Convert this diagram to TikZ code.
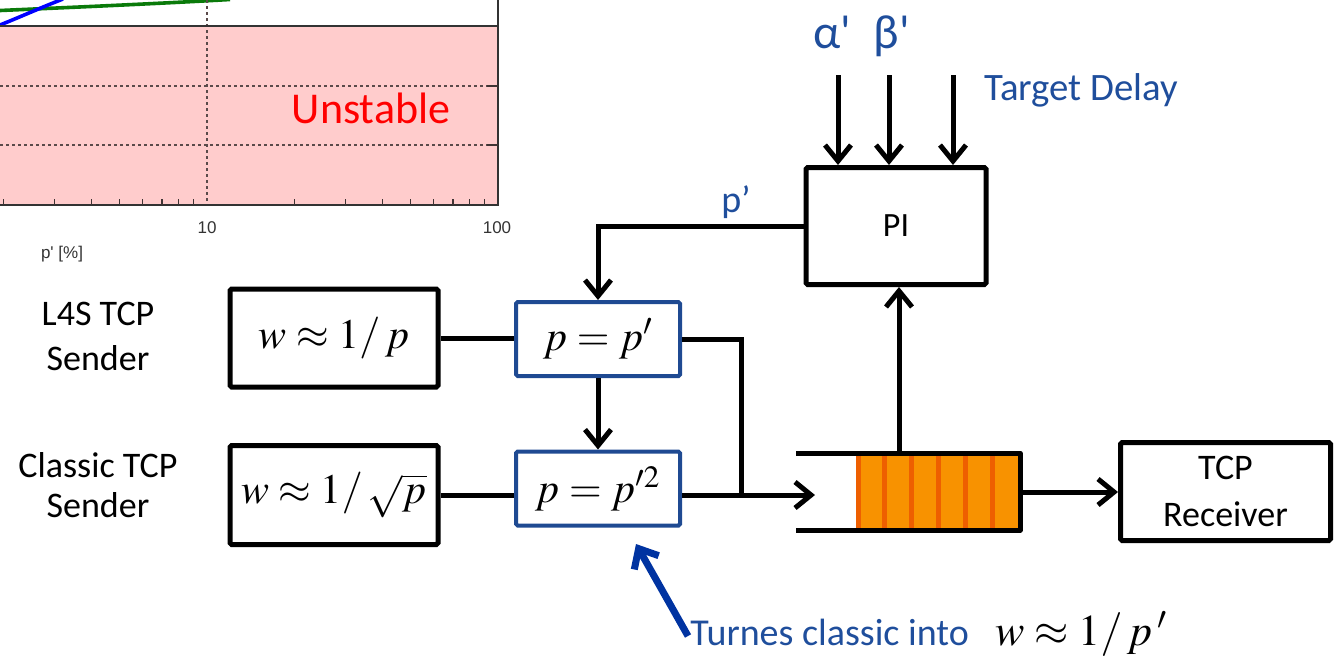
\documentclass[tikz,border=0pt]{standalone}
\usepackage{mathptmx}
\usepackage[no-math]{fontspec}
\setmainfont{Carlito}
\newfontfamily\plotfont{Liberation Sans}
\usetikzlibrary{arrows.meta}
\definecolor{pinkbg}{HTML}{FFCCCC}
\definecolor{boxblue}{HTML}{1F4A92}
\definecolor{txtblue}{HTML}{1F4E9C}
\definecolor{arrowblue}{HTML}{0033A1}
\definecolor{qorange}{HTML}{F89200}
\definecolor{qstripe}{HTML}{EE5F00}
\definecolor{gridcol}{HTML}{5A4A4A}
\definecolor{plotgreen}{HTML}{0A7A0A}
\begin{document}
\begin{tikzpicture}[x=0.5pt,y=-0.5pt,
  sbox/.style={draw, line width=2.5pt, inner sep=0pt, rounded corners=0.8pt},
  mbox/.style={draw=boxblue, line width=2pt, inner sep=0pt, rounded corners=0.8pt},
  conn/.style={line width=2.5pt},
  arr/.style={conn, -{Straight Barb[length=8pt,width=13pt]}},
  lbl/.style={font=\fontsize{18}{21}\selectfont, align=center},
  bluelbl/.style={text=txtblue},
  mathtxt/.style={font=\fontsize{21}{24}\selectfont},
  gridline/.style={gridcol, line width=0.6pt, dash pattern=on 1.5pt off 1.5pt},
  tick/.style={gridcol!70!black, line width=0.6pt},
  axislbl/.style={font=\plotfont\fontsize{8.5}{10}\selectfont, text=black!80}]
\useasboundingbox (0,0) rectangle (1336,655);
% ---------- plot fragment ----------
\fill[pinkbg] (0,26) rectangle (498,205);
\draw[plotgreen, line width=1.8pt] (0,10.5) .. controls (80,7) and (160,3.5) .. (230,-0.5);
\draw[blue, line width=1.8pt] (0,25) .. controls (20,17) and (40,8) .. (63,-1);
\draw[gridline] (0,86) -- (498,86);
\draw[gridline] (0,145) -- (498,145);
\draw[gridline] (207,0) -- (207,205);
\draw[black!80, line width=0.7pt] (0,26) -- (498,26);
\draw[black!80, line width=0.7pt] (0,205) -- (498,205) -- (498,0);
\foreach \k in {2,...,9}{
  \draw[tick] ({-84+291*log10(\k)},205) -- ++(0,-6);
  \draw[tick] ({207+291*log10(\k)},205) -- ++(0,-6);
}
\draw[tick] (498,86) -- ++(-11,0);
\draw[tick] (498,145) -- ++(-11,0);
\node[axislbl] (t10) at (207,228) {10};
\node[axislbl] (t100) at (497,228) {100};
\node[axislbl] (xlab) at (62,254) {p\textquotesingle{} [\%]};
\node[text=red, font=\fontsize{22}{26}\selectfont, anchor=base] (unst) at (371,123) {Unstable};
% ---------- senders ----------
\node[lbl, font=\fontsize{18}{22.5}\selectfont] (l4s) at (98,336) {L4S TCP\\Sender};
\node[lbl, font=\fontsize{18}{20}\selectfont] (cls) at (98,485) {Classic TCP\\Sender};
\node[sbox, minimum width=104pt, minimum height=49pt, mathtxt] (s1) at (334,338) {$w\approx 1/\,p$};
\node[sbox, minimum width=104pt, minimum height=49.5pt, mathtxt] (s2) at (334,495) {$w\approx 1/\,\sqrt{p}$};
% ---------- couplings ----------
\node[mbox, minimum width=82pt, minimum height=37pt, mathtxt] (m1) at (598,339) {$p = p'$};
\node[mbox, minimum width=82pt, minimum height=37pt, mathtxt] (m2) at (598,488.5) {$p = p'^{2}$};
% ---------- PI ----------
\node[sbox, minimum width=90pt, minimum height=58.5pt, font=\fontsize{17}{20}\selectfont] (pi) at (896,226) {PI};
\node[bluelbl, font=\fontsize{24}{28}\selectfont, anchor=base] (alpha) at (832,48) {α\textquotesingle};
\node[bluelbl, font=\fontsize{24}{28}\selectfont, anchor=base] (beta) at (892,48) {β\textquotesingle};
\node[bluelbl, font=\fontsize{19.4}{23}\selectfont, anchor=base] (td) at (1081,100) {Target Delay};
\node[bluelbl, font=\fontsize{19}{23}\selectfont, anchor=base] (pp) at (736,212) {p’};
\coordinate (a1) at (838,75);
\coordinate (a2) at (889,75);
\coordinate (a3) at (953,75);
% ---------- receiver ----------
\node[sbox, minimum width=105pt, minimum height=49pt, font=\fontsize{18}{23.5}\selectfont, align=center] (rx) at (1225.5,491.5) {TCP\\Receiver};
% ---------- queue ----------
\fill[qorange] (856,453) rectangle (1020,530);
\foreach \x in {858,884.5,911.5,938.5,965.5,992}
  \draw[qstripe, line width=2.5pt] (\x,455) -- (\x,528);
\draw[conn, line join=round] (796,453) -- (1020,453) -- (1020,530) -- (796,530);
\coordinate (qin) at (815,495);
\coordinate (qout) at (1020,492);
\coordinate (qtop) at (899,453);
\coordinate (mrg) at (741,495);
% ---------- connectors ----------
\draw[conn] (s1.east) -- (s1.east -| m1.west);
\draw[conn] (s2.east) -- (s2.east -| m2.west);
\draw[conn] (m1.east) -| (mrg);
\draw[arr] (m2.east |- mrg) -- (qin);
\draw[arr] (qout) -- (qout -| rx.west);
\draw[arr] (qtop) -- (qtop |- pi.south);
\draw[arr] (pi.west) -| (m1.north);
\draw[arr] (m1.south) -- (m2.north);
\draw[arr] (a1) -- (a1 |- pi.north);
\draw[arr] (a2) -- (a2 |- pi.north);
\draw[arr] (a3) -- (a3 |- pi.north);
% ---------- annotation ----------
\node[bluelbl, font=\fontsize{19}{23}\selectfont, anchor=base west, inner sep=0pt] (note) at (690,645) {Turnes classic into};
\node[font=\fontsize{22}{26}\selectfont, anchor=base west, inner sep=0pt] (notem) at (995,645) {$w\approx 1/\,p\,'$};
\coordinate (ntail) at (688,636);
\draw[arrowblue, line width=3.5pt, -{Straight Barb[length=8pt,width=14pt]}] (ntail) -- (636,544);
\end{tikzpicture}
\end{document}
